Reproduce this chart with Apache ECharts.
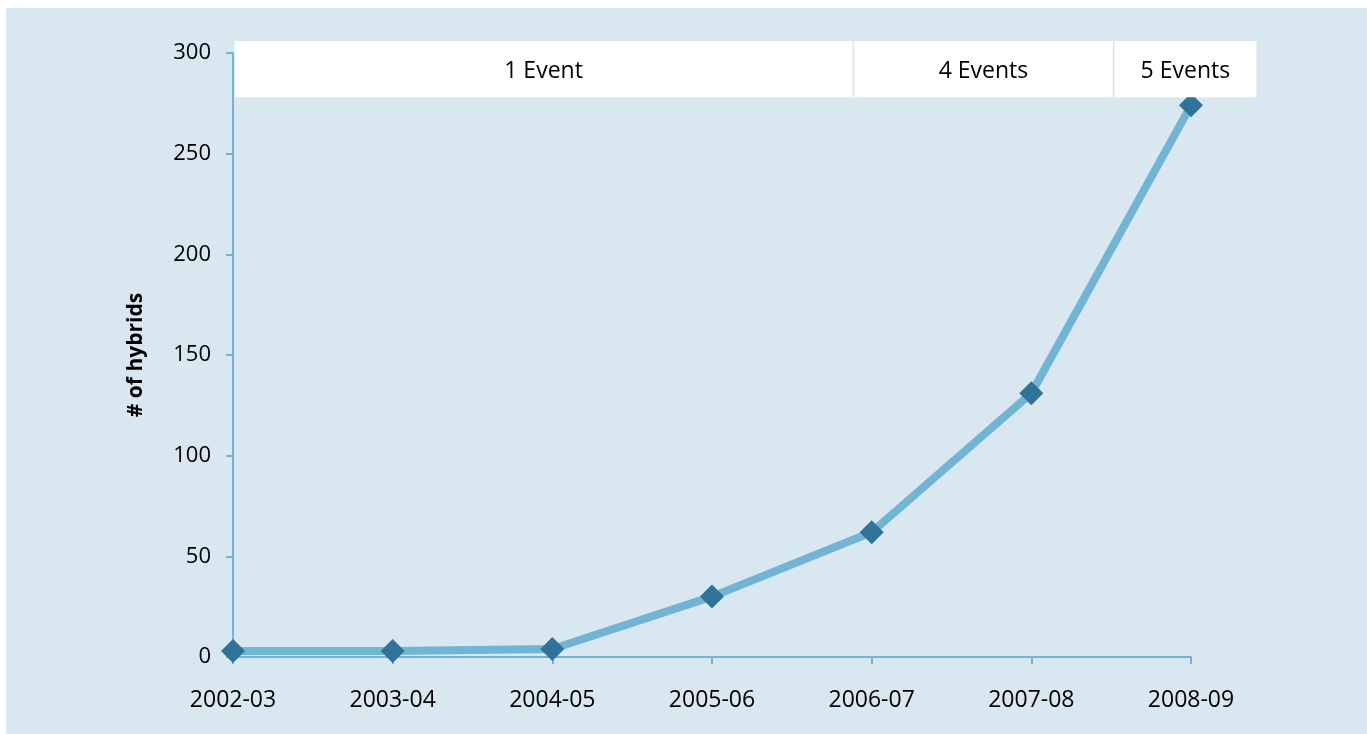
<!DOCTYPE html>
<html>
<head>
<meta charset="utf-8">
<script src="https://cdn.jsdelivr.net/npm/echarts@6/dist/echarts.min.js"></script>
<style>
  html, body { margin: 0; padding: 0; background: #ffffff; width: 1367px; height: 734px; overflow: hidden; }
  #chart { position: absolute; left: 6px; top: 8px; width: 1361px; height: 726px; background: #d8e7f0; }
</style>
</head>
<body>
<div id="chart"></div>
<script>
// data
const seasons = ['2002-03', '2003-04', '2004-05', '2005-06', '2006-07', '2007-08', '2008-09']
const hybrids = [3, 3, 4, 30, 62, 131, 274]
const yTicks = [0, 50, 100, 150, 200, 250, 300]

// event bands along the top, in category-index units
const eventLabels = ['1 Event', '4 Events', '5 Events']
const eventStart = [0.01, 3.89, 5.52]
const eventEnd = [3.88, 5.51, 6.41]
const bandTop = 306
const bandBottom = 278

const FONT = '"Open Sans", sans-serif'
const axisBlue = '#72b4d4'

const chart = echarts.init(document.getElementById('chart'))

const option = {
  backgroundColor: 'transparent',
  animation: false,
  grid: { left: 227, right: 176, top: 45, bottom: 77 },
  xAxis: {
    type: 'category',
    data: seasons,
    boundaryGap: false,
    axisLine: { lineStyle: { color: axisBlue, width: 2 } },
    axisTick: { show: true, length: 7, inside: false, alignWithLabel: true, lineStyle: { color: axisBlue, width: 2 } },
    axisLabel: { color: '#000', fontSize: 23, fontFamily: FONT, margin: 32 },
    splitLine: { show: false },
  },
  yAxis: {
    type: 'value',
    min: yTicks[0],
    max: yTicks[yTicks.length - 1],
    interval: 50,
    name: '# of hybrids',
    nameLocation: 'middle',
    nameRotate: 90,
    nameGap: 86,
    nameTextStyle: { color: '#000', fontSize: 21, fontWeight: 'bold', fontFamily: FONT },
    axisLine: { show: true, lineStyle: { color: axisBlue, width: 2 } },
    axisTick: { show: true, length: 7, lineStyle: { color: axisBlue, width: 2 } },
    axisLabel: { color: '#000', fontSize: 22, fontFamily: FONT, margin: 22 },
    splitLine: { show: false },
  },
  series: [
    {
      type: 'line',
      data: hybrids,
      symbol: 'diamond',
      symbolSize: 24,
      lineStyle: { color: '#72b4d4', width: 8 },
      itemStyle: { color: '#2f7398' },
      z: 3,
    },
  ],
}

chart.setOption(option)

// event boxes placed through the axes
function catToX(f) {
  const i = Math.min(Math.floor(f), seasons.length - 2)
  const a = chart.convertToPixel({ xAxisIndex: 0 }, i)
  const b = chart.convertToPixel({ xAxisIndex: 0 }, i + 1)
  return a + (f - i) * (b - a)
}
const yTop = chart.convertToPixel({ yAxisIndex: 0 }, bandTop)
const yBot = chart.convertToPixel({ yAxisIndex: 0 }, bandBottom)

const graphics = []
eventLabels.forEach((label, k) => {
  const x0 = catToX(eventStart[k])
  const x1 = catToX(eventEnd[k])
  graphics.push({
    type: 'rect',
    shape: { x: x0, y: yTop, width: x1 - x0, height: yBot - yTop },
    style: { fill: '#ffffff' },
    z: 10,
  })
  graphics.push({
    type: 'text',
    x: (x0 + x1) / 2,
    y: (yTop + yBot) / 2 + 2,
    style: {
      text: label,
      fill: '#000',
      font: '23px ' + FONT,
      align: 'center',
      verticalAlign: 'middle',
    },
    z: 11,
  })
})

chart.setOption({ graphic: graphics })
</script>
</body>
</html>
